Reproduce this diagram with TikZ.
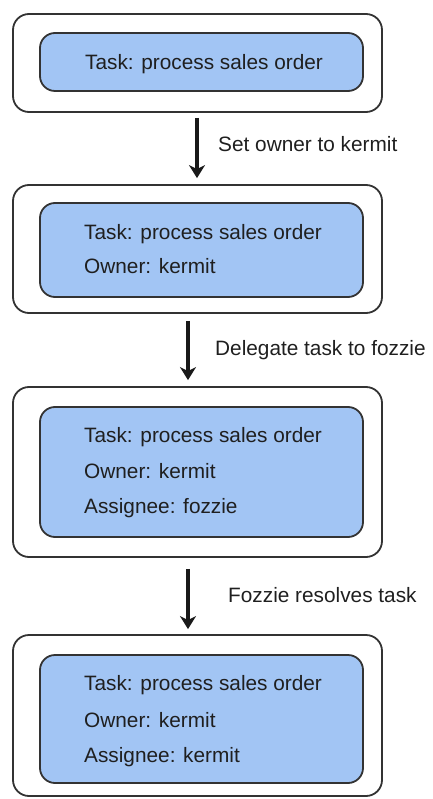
\documentclass[tikz,border=0pt]{standalone}
\usepackage{fontspec}
\setmainfont{Liberation Sans}
\usetikzlibrary{arrows.meta}
\definecolor{boxblue}{HTML}{A2C5F4}
\definecolor{ink}{HTML}{333333}
\tikzset{
  outerbox/.style={draw=ink, line width=1.8pt, rounded corners=16pt, inner sep=0pt},
  innerbox/.style={draw=ink, fill=boxblue, line width=1.8pt, rounded corners=15pt, inner sep=0pt},
  txt/.style={anchor=base west, inner sep=0pt, font=\fontsize{20.8}{24}\selectfont, text=black!88},
  flow/.style={draw=black!90, line width=3.5pt, -{Stealth[length=13pt,width=16pt,inset=4pt]}}
}
\begin{document}
\begin{tikzpicture}[x=1pt,y=-1pt]
\useasboundingbox (0,0) rectangle (432,799);
% box 1
\node[outerbox, minimum width=369pt, minimum height=98pt] (o1) at (197.5,63) {};
\node[innerbox, minimum width=323pt, minimum height=58pt] (i1) at (201.5,62) {};
\node[txt, anchor=base] (t1a) at (204,70) {Task: process sales order};
% box 2
\node[outerbox, minimum width=369pt, minimum height=128pt] (o2) at (197.5,249) {};
\node[innerbox, minimum width=323pt, minimum height=94pt] (i2) at (201.5,250) {};
\node[txt] (t2a) at (84,240) {Task: process sales order};
\node[txt] (t2b) at (84,273) {Owner: kermit};
% box 3
\node[outerbox, minimum width=369pt, minimum height=170pt] (o3) at (197.5,472) {};
\node[innerbox, minimum width=323pt, minimum height=130pt] (i3) at (201.5,472) {};
\node[txt] (t3a) at (84,442) {Task: process sales order};
\node[txt] (t3b) at (84,478) {Owner: kermit};
\node[txt] (t3c) at (84,513) {Assignee: fozzie};
% box 4
\node[outerbox, minimum width=369pt, minimum height=161pt] (o4) at (197.5,715.5) {};
\node[innerbox, minimum width=323pt, minimum height=128pt] (i4) at (201.5,719) {};
\node[txt] (t4a) at (84,690) {Task: process sales order};
\node[txt] (t4b) at (84,727) {Owner: kermit};
\node[txt] (t4c) at (84,762) {Assignee: kermit};
% arrows
\coordinate (x1) at (197,0);
\coordinate (x2) at (188,0);
\draw[flow, shorten <=5pt, shorten >=6pt] (o1.south -| x1) -- (o2.north -| x1);
\draw[flow, shorten <=7pt, shorten >=6pt] (o2.south -| x2) -- (o3.north -| x2);
\draw[flow, shorten <=11pt, shorten >=5pt] (o3.south -| x2) -- (o4.north -| x2);
% labels
\node[txt] (l1) at (218,152) {Set owner to kermit};
\node[txt] (l2) at (215,355) {Delegate task to fozzie};
\node[txt] (l3) at (228,602) {Fozzie resolves task};
\end{tikzpicture}
\end{document}
